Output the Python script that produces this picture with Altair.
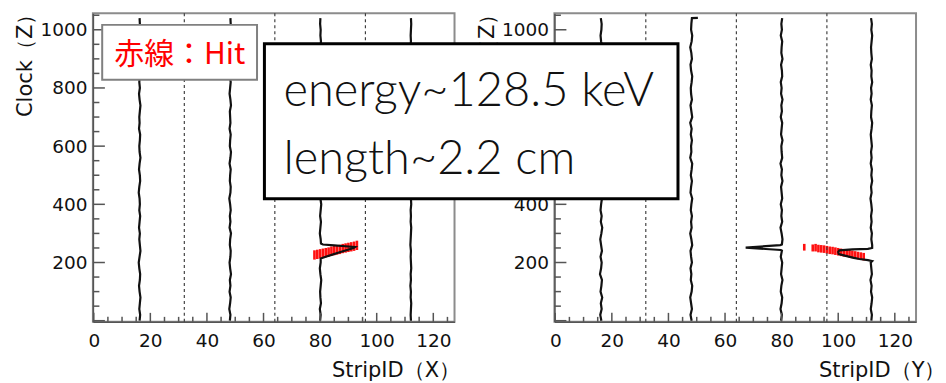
import altair as alt
import pandas as pd

# ---------------- data ----------------
STRIP_BASE = [16, 48, 80, 112]
DIVIDERS = [32, 64, 96]
X_LABELS = [0, 20, 40, 60, 80, 100, 120]
X_MINOR = [5, 10, 15, 25, 30, 35, 45, 50, 55, 65, 70, 75, 85, 90, 95, 105, 110, 115, 125]
Y_LABELS = [200, 400, 600, 800, 1000]
Y_MAJOR = [0, 200, 400, 600, 800, 1000]
Y_MINOR = [50, 100, 150, 250, 300, 350, 450, 500, 550, 650, 700, 750, 850, 900, 950, 1050]

CLOCK = [0, 20, 40, 60, 80, 100, 120, 140, 160, 180,
         200, 220, 240, 260, 280, 300, 320, 340, 360, 380,
         400, 420, 440, 460, 480, 500, 520, 540, 560, 580,
         600, 620, 640, 660, 680, 700, 720, 740, 760, 780,
         800, 820, 840, 860, 880, 900, 920, 940, 960, 980,
         1000, 1020, 1040]

# waveform deviation from strip baseline (in strips), left panel (X)
L16 = [0.2, 0.4, 0.1, 0.3, 0.5, 0.2, 0.0, 0.3, 0.4, 0.1,
       -0.1, 0.2, 0.5, 0.3, 0.1, 0.3, 0.0, 0.2, 0.4, 0.1,
       0.3, 0.2, -0.1, 0.1, 0.4, 0.3, 0.0, 0.2, 0.5, 0.2,
       0.1, 0.3, 0.4, 0.0, 0.2, 0.1, 0.3, 0.5, 0.2, 0.0,
       0.3, 0.1, 0.2, 0.4, 0.1, 0.3, 0.0, 0.2, 0.4, 0.2,
       0.1, 0.3, 0.2]
L48 = [0.1, 0.3, -0.1, 0.2, 0.4, 0.0, 0.3, 0.1, 0.5, 0.2,
       0.0, 0.3, 0.4, 0.1, 0.2, 0.5, 0.0, 0.3, 0.1, 0.4,
       0.2, -0.1, 0.3, 0.4, 0.1, 0.2, 0.4, 0.0, 0.3, 0.5,
       0.1, 0.2, 0.4, 0.0, 0.3, 0.2, 0.1, 0.5, 0.3, 0.0,
       0.2, 0.4, 0.1, 0.3, 0.5, 0.2, 0.0, 0.3, 0.4, 0.1,
       0.2, 0.4, 0.3]
L80 = [0.0, 0.2, -0.1, 0.3, 0.1, 0.0, 0.2, 0.4, 0.1, -0.1,
       0.2, 0.1, 0.3, 0.0, 0.2, -0.1, 0.1, 0.3, 0.0, 0.2,
       0.4, 0.1, -0.1, 0.2, 0.0, 0.3, 0.1, 0.2, -0.1, 0.1,
       0.3, 0.0, 0.2, 0.1, 0.4, 0.0, 0.2, -0.1, 0.1, 0.3,
       0.0, 0.2, 0.1, 0.3, -0.1, 0.2, 0.0, 0.1, 0.3, 0.1,
       0.2, 0.0, 0.1]
L112 = [0.1, 0.0, 0.1, 0.2, 0.0, 0.1, -0.1, 0.1, 0.0, 0.2,
        0.1, 0.0, 0.1, -0.1, 0.0, 0.1, 0.2, 0.0, 0.1, 0.0,
        0.2, 0.1, 0.0, 0.1, -0.1, 0.0, 0.1, 0.2, 0.0, 0.1,
        0.0, 0.1, 0.2, 0.0, 0.1, -0.1, 0.0, 0.1, 0.0, 0.2,
        0.1, 0.0, 0.1, 0.0, 0.2, 0.1, 0.0, -0.1, 0.1, 0.0,
        0.1, 0.2, 0.1]
# right panel (Y)
R16 = [0.3, -0.1, 0.4, 0.1, 0.6, 0.0, 0.3, 0.5, -0.2, 0.2,
       0.4, 0.0, 0.5, 0.2, -0.1, 0.3, 0.6, 0.1, 0.4, 0.0,
       0.2, 0.5, -0.1, 0.3, 0.1, 0.6, 0.2, 0.0, 0.4, 0.3,
       -0.1, 0.4, 0.2, 0.5, 0.0, 0.3, 0.6, 0.1, 0.2, 0.4,
       0.0, 0.5, 0.2, -0.1, 0.3, 0.4, 0.1, 0.6, 0.2, 0.0,
       0.3, 0.4, 0.1]
R48 = [0.2, -0.2, 0.3, 0.0, -0.3, 0.2, 0.4, -0.1, 0.1, -0.2,
       0.3, 0.0, -0.2, 0.4, 0.1, -0.3, 0.2, 0.0, 0.3, -0.1,
       0.1, 0.4, -0.2, 0.0, 0.3, -0.1, 0.2, 0.4, -0.3, 0.1,
       0.0, 0.3, -0.1, 0.2, -0.3, 0.4, 0.1, -0.2, 0.3, 0.0,
       -0.1, 0.2, 0.4, 0.0, -0.2, 0.3, 0.1, -0.3, 0.2, 0.4,
       0.0, 0.1, 0.3]
R80 = [-0.2, 0.1, -0.4, 0.0, 0.2, -0.3, -0.1, 0.3, -0.2, 0.0,
       0.2, -0.3, 0.1, -0.1, 0.3, 0.0, -0.4, 0.2, -0.1, 0.1,
       -0.3, 0.2, 0.0, -0.2, 0.3, -0.1, 0.1, -0.4, 0.2, 0.0,
       -0.1, 0.3, -0.2, 0.0, 0.2, -0.3, 0.1, -0.1, 0.3, -0.2,
       0.0, -0.3, 0.2, 0.1, -0.2, 0.3, -0.1, 0.0, 0.2, -0.3,
       0.1, -0.1, 0.2]
R112 = [-0.3, -0.1, -0.5, -0.2, 0.0, -0.4, -0.2, -0.6, -0.1, -0.3,
        -0.5, -0.2, -0.4, 0.0, -0.3, -0.1, -0.5, -0.2, -0.4, -0.1,
        -0.3, -0.6, -0.2, -0.4, 0.0, -0.3, -0.1, -0.5, -0.2, -0.4,
        -0.1, -0.3, -0.5, -0.2, 0.0, -0.4, -0.3, -0.1, -0.5, -0.2,
        -0.4, 0.0, -0.3, -0.2, -0.5, -0.1, -0.3, -0.4, -0.2, 0.0,
        -0.3, -0.1, -0.4]

# pulses (clock, deviation) replacing the baseline around the event
PULSE_L80_CLOCK = [214, 220, 228, 236, 244, 250, 253, 256, 259, 262, 265]
PULSE_L80_AMP = [0.2, 2.0, 4.6, 7.2, 9.8, 11.8, 12.3, 9.0, 5.0, 1.0, 0.3]
PULSE_R80_CLOCK = [241, 243, 251, 260, 262]
PULSE_R80_AMP = [0.1, -0.3, -12.7, -0.5, 0.1]
PULSE_R112_CLOCK = [205, 208, 212, 216, 222, 229, 236, 242, 245, 247, 250]
PULSE_R112_AMP = [0.0, -1.5, -4.5, -6.5, -9.0, -11.8, -12.0, -11.6, -7.0, -1.5, 0.0]
HOOK_R48_CLOCK = [1041]
HOOK_R48_AMP = [2.4]

# hits (red)
HIT_X_STRIP = [78, 79, 80, 81, 82, 83, 84, 85, 86, 87, 88, 89, 90, 91, 92, 93]
HIT_X_LO = [210, 212, 214, 216, 218, 220, 223, 225, 227, 229, 232, 234, 236, 238, 240, 243]
HIT_X_HI = [242, 244, 246, 248, 250, 252, 255, 257, 259, 261, 264, 266, 268, 270, 272, 275]
HIT_Y_STRIP = [88, 91, 92, 93, 94, 95, 96, 97, 98, 99, 100, 101, 102, 103, 104, 105, 106, 107, 108, 109]
HIT_Y_LO = [241, 238, 238, 235, 234, 233, 231, 229, 228, 226, 224, 222, 220, 219, 217, 215, 213, 211, 209, 207]
HIT_Y_HI = [264, 262, 264, 261, 260, 259, 257, 255, 254, 252, 250, 248, 246, 245, 243, 241, 239, 237, 235, 233]

LEGEND_TEXT = "赤線：Hit"
BOX_LINES = ["energy~128.5 keV", "length~2.2 cm"]

# ---------------- layout / style ----------------
W, H = 362, 309
XDOM = [-0.3, 127.5]
YDOM = [-4, 1057]
TFONT = "DejaVu Sans"
LFONT = "DejaVu Sans"
AXC = "#555555"


def wave_frame(offsets_list, pulses, extras):
    rows = []
    for wi, (base, offs) in enumerate(zip(STRIP_BASE, offsets_list)):
        pts = list(zip(CLOCK, offs))
        if wi in pulses:
            pc, pa = pulses[wi]
            lo, hi = min(pc), max(pc)
            pts = [p for p in pts if p[0] < lo - 1 or p[0] > hi + 1] + list(zip(pc, pa))
        if wi in extras:
            ec, ea = extras[wi]
            pts += list(zip(ec, ea))
        pts.sort()
        for k, (c, a) in enumerate(pts):
            rows.append({"wave": wi, "seq": k, "clock": c, "strip": base + a})
    return pd.DataFrame(rows)


def panel(waves, hit_s, hit_lo, hit_hi, xtitle, xtitle_x, overlays):
    xs = alt.Scale(domain=XDOM, nice=False, zero=False)
    ys = alt.Scale(domain=YDOM, nice=False, zero=False)
    x_axis = alt.Axis(values=X_LABELS, format="d", ticks=False, grid=False, domainColor=AXC,
                      domainWidth=1.5, labelFont=LFONT, labelFontSize=18.5, labelColor="#111111",
                      labelPadding=10, labelFlush=False, labelOverlap=False,
                      title=xtitle, titleFont=TFONT, titleFontSize=21, titleFontWeight="normal",
                      titleColor="#111111", titleAnchor="end", titleAlign="right",
                      titleX=xtitle_x, titleY=55, titleBaseline="alphabetic")
    y_axis = alt.Axis(values=Y_LABELS, format="d", ticks=False, grid=False, domainColor=AXC,
                      domainWidth=1.5, labelFont=LFONT, labelFontSize=18.5, labelColor="#111111",
                      labelPadding=6, labelFlush=False, labelOverlap=False,
                      title="Clock（Z）", titleFont=TFONT, titleFontSize=21, titleFontWeight="normal",
                      titleColor="#111111", titleAnchor="end", titleAlign="right", titleY=-10,
                      titlePadding=4)

    def X(f):
        return alt.X(f, scale=xs, axis=x_axis, title=xtitle)

    def Y(f):
        return alt.Y(f, scale=ys, axis=y_axis, title="Clock（Z）")

    hits_df = pd.DataFrame({"strip": hit_s, "lo": hit_lo, "hi": hit_hi})
    hits = alt.Chart(hits_df).mark_rule(color="#ff1010", strokeWidth=2.6).encode(
        x=X("strip:Q"), y=Y("lo:Q"), y2="hi:Q")
    div = alt.Chart(pd.DataFrame({"v": DIVIDERS})).mark_rule(
        color="#333333", strokeWidth=1.1, strokeDash=[3, 3]).encode(
        x=X("v:Q"), y=alt.value(0), y2=alt.value(H))
    lines = alt.Chart(waves).mark_line(color="#111111", strokeWidth=2.2).encode(
        x=X("strip:Q"), y=Y("clock:Q"), detail="wave:N", order="seq:Q")
    xmaj = alt.Chart(pd.DataFrame({"v": X_LABELS})).mark_rule(color=AXC, strokeWidth=1.5).encode(
        x=X("v:Q"), y=alt.value(H), y2=alt.value(H - 9))
    xmin = alt.Chart(pd.DataFrame({"v": X_MINOR})).mark_rule(color=AXC, strokeWidth=1.5).encode(
        x=X("v:Q"), y=alt.value(H), y2=alt.value(H - 5))
    ymaj = alt.Chart(pd.DataFrame({"v": Y_MAJOR})).mark_rule(color=AXC, strokeWidth=1.5).encode(
        y=Y("v:Q"), x=alt.value(0), x2=alt.value(12))
    ymin = alt.Chart(pd.DataFrame({"v": Y_MINOR})).mark_rule(color=AXC, strokeWidth=1.5).encode(
        y=Y("v:Q"), x=alt.value(0), x2=alt.value(6.5))
    return alt.layer(hits, div, lines, xmaj, xmin, ymaj, ymin, *overlays).properties(width=W, height=H)


one = pd.DataFrame({"k": [0]})

legend_box = alt.Chart(one).mark_rect(fill="white", stroke="#808080", strokeWidth=2).encode(
    x=alt.value(9.3), x2=alt.value(164.3), y=alt.value(11.7), y2=alt.value(66.7))
legend_txt = alt.Chart(pd.DataFrame({"t": [LEGEND_TEXT]})).mark_text(
    align="left", baseline="alphabetic", font="Noto Sans CJK JP", fontSize=30, color="#ff0000").encode(
    x=alt.value(21.3), y=alt.value(51), text="t:N")

info_box = alt.Chart(one).mark_rect(fill="white", stroke="black", strokeWidth=3).encode(
    x=alt.value(-290.3), x2=alt.value(123.7), y=alt.value(30.7), y2=alt.value(185.7))
info_1 = alt.Chart(pd.DataFrame({"t": [BOX_LINES[0]]})).mark_text(
    align="left", baseline="alphabetic", font="Lato", fontWeight=300, fontSize=47, color="#111111").encode(
    x=alt.value(-271.3), y=alt.value(92.7), text="t:N")
info_2 = alt.Chart(pd.DataFrame({"t": [BOX_LINES[1]]})).mark_text(
    align="left", baseline="alphabetic", font="Lato", fontWeight=300, fontSize=47, color="#111111").encode(
    x=alt.value(-271.3), y=alt.value(161), text="t:N")

waves_x = wave_frame([L16, L48, L80, L112], {2: (PULSE_L80_CLOCK, PULSE_L80_AMP)}, {})
waves_y = wave_frame([R16, R48, R80, R112],
                     {2: (PULSE_R80_CLOCK, PULSE_R80_AMP), 3: (PULSE_R112_CLOCK, PULSE_R112_AMP)},
                     {1: (HOOK_R48_CLOCK, HOOK_R48_AMP)})

left = panel(waves_x, HIT_X_STRIP, HIT_X_LO, HIT_X_HI, "StripID（X）", W + 5, [legend_box, legend_txt])
right = panel(waves_y, HIT_Y_STRIP, HIT_Y_LO, HIT_Y_HI, "StripID（Y）", W + 29, [info_box, info_1, info_2])

chart = alt.hconcat(left, right, spacing=100, bounds="flush").properties(
    padding={"left": 13, "top": 1, "right": 0, "bottom": 0},
    background="white",
).configure_view(stroke="#8c8c8c", strokeWidth=2)

chart.save("out.html", embed_options={"renderer": "svg", "actions": False})
